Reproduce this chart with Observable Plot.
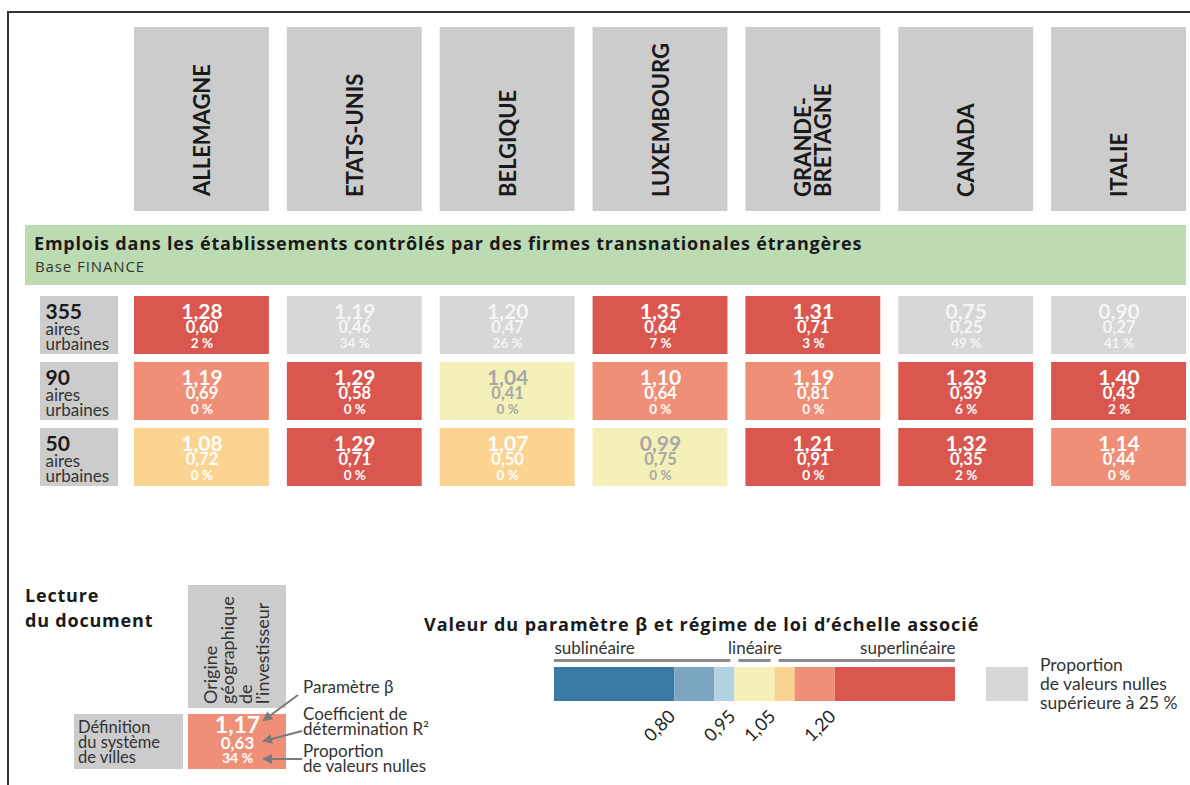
<!DOCTYPE html>
<html><head><meta charset="utf-8">
<script src="https://cdn.jsdelivr.net/npm/d3@7"></script>
<script src="https://cdn.jsdelivr.net/npm/@observablehq/plot@0.6"></script>
<style>
body{margin:0;background:#fff;}
#root{position:relative;width:1190px;height:785px;overflow:hidden;font-family:Lato,"Open Sans",sans-serif;color:#1a1a1a;background:#fff;}
.abs{position:absolute;}
.hb{font-family:"Open Sans",Lato,sans-serif;font-weight:bold;font-size:18px;white-space:nowrap;color:#1a1a1a;letter-spacing:0.8px;}
#frameTop{left:7px;top:11px;width:1183px;height:2px;background:#333;}
#frameLeft{left:7px;top:11px;width:2px;height:774px;background:#333;}
#banner{left:25px;top:225px;width:1161px;height:60px;background:#bddbb3;}
#bannerTitle{left:34px;top:231px;line-height:24px;}
#bannerSub{left:35px;top:256px;font-family:"Open Sans",Lato,sans-serif;font-size:15px;letter-spacing:0.9px;line-height:20px;color:#333;}
#lecture{left:25px;top:583px;line-height:25px;}
#vBox{left:188px;top:585px;width:98px;height:123px;background:#cccccc;}
#defBox{left:74px;top:714px;width:109px;height:55px;background:#cccccc;font-size:16.5px;line-height:15px;color:#333;box-sizing:border-box;padding:6px 0 0 4px;white-space:nowrap;}
#notes{left:303px;top:679px;font-size:17px;line-height:15px;color:#333;white-space:nowrap;}
#legTitle{left:424px;top:611px;line-height:26px;letter-spacing:0.95px;}
#greyKey{left:986px;top:667px;width:42px;height:34px;background:#d7d7d7;}
#greyKeyText{left:1040px;top:655px;font-size:17.5px;line-height:19px;color:#333;white-space:nowrap;}
svg{overflow:visible;}
</style></head>
<body><div id="root"></div>
<script>
// ---------- data ----------
const countries = ["ALLEMAGNE","ETATS-UNIS","BELGIQUE","LUXEMBOURG","GRANDE-\nBRETAGNE","CANADA","ITALIE"];
const systems = ["355","90","50"];
const beta355 = [1.28,1.19,1.20,1.35,1.31,0.75,0.90];
const r2_355  = [0.60,0.46,0.47,0.64,0.71,0.25,0.27];
const zero355 = [2,34,26,7,3,49,41];
const beta90  = [1.19,1.29,1.04,1.10,1.19,1.23,1.40];
const r2_90   = [0.69,0.58,0.41,0.64,0.81,0.39,0.43];
const zero90  = [0,0,0,0,0,6,2];
const beta50  = [1.08,1.29,1.07,0.99,1.21,1.32,1.14];
const r2_50   = [0.72,0.71,0.50,0.75,0.91,0.35,0.44];
const zero50  = [0,0,0,0,0,2,0];
const thresholds = [0.80,0.90,0.95,1.05,1.10,1.20];
const palette = ["#3a7ba5","#7aa6c1","#b4d3e2","#f3f1b8","#fcd491","#f08f77","#d9574f"];
const tickValues = [0.80,0.95,1.05,1.20];
const regimes = ["sublinéaire","linéaire","superlinéaire"];
const regimeBounds = [[0.5,0.95],[0.95,1.05],[1.05,1.5]];
const betaDomain = [0.5,1.5];
const guideBeta = 1.17, guideR2 = 0.63, guideZero = 34;
const greyLimit = 25;

// ---------- helpers ----------
const root = document.getElementById("root");
function place(el, left, top){ const d=document.createElement("div"); d.className="abs"; d.style.left=left+"px"; d.style.top=top+"px"; d.appendChild(el); root.appendChild(d); return d; }
function html(id, content, cls){ const d=document.createElement("div"); d.id=id; d.className="abs"+(cls?" "+cls:""); d.innerHTML=content; root.appendChild(d); return d; }
function align(el, o){
  const b = el.getBoundingClientRect(), r = root.getBoundingClientRect();
  const L = b.left - r.left, T = b.top - r.top;
  let dx = 0, dy = 0;
  if (o.cx != null) dx = o.cx - (L + b.width/2);
  if (o.right != null) dx = o.right - (L + b.width);
  if (o.bottom != null) dy = o.bottom - (T + b.height);
  if (o.top != null) dy = o.top - T;
  el.setAttribute("transform", `translate(${dx},${dy}) ` + (el.getAttribute("transform") || ""));
}
const fmt = v => v.toFixed(2).replace(".", ",");
const pct = v => v + "\u202f%";
const FONT = "Lato, 'Open Sans', sans-serif";
const style = {fontFamily: FONT, background: "transparent", overflow: "visible"};
const colorOpt = {type:"threshold", domain: thresholds, range: palette};

const cells = [];
[[beta355,r2_355,zero355],[beta90,r2_90,zero90],[beta50,r2_50,zero50]].forEach(([b,r,z],i)=>{
  countries.forEach((c,j)=>cells.push({system:systems[i], country:c, beta:b[j], r2:r[j], zero:z[j]}));
});
const txtFill = d => d.zero > greyLimit ? "#f5f5f5" : (d.beta >= 0.95 && d.beta < 1.05 ? "#a8a8a8" : "#ffffff");

html("frameTop",""); html("frameLeft","");

// ---------- header ----------
const xBand = {type:"band", domain: countries, paddingInner: 18/153, paddingOuter: 0, round:false, axis:null};
const header = Plot.plot({
  width:1190, height:184, marginTop:0, marginBottom:0, marginLeft:134, marginRight:4, style,
  x: xBand,
  marks:[
    Plot.cell(countries, {x:d=>d, fill:"#cccccc", inset:0}),
    Plot.text(countries, {x:d=>d, text:d=>d, rotate:-90, textAnchor:"start", frameAnchor:"bottom",
      fontSize:22, fontWeight:"bold", fill:"#1a1a1a", lineHeight:0.92})
  ]
});
place(header, 0, 27);
{
  const sx = header.scale("x");
  header.querySelectorAll("g[aria-label='text'] text").forEach((t,i)=>{
    align(t, {cx: sx.apply(countries[i]) + sx.bandwidth/2, bottom: 197});
  });
}

// ---------- banner ----------
html("banner","");
html("bannerTitle","Emplois dans les établissements contrôlés par des firmes transnationales étrangères","hb");
html("bannerSub","Base FINANCE");

// ---------- grid ----------
const yBand = {type:"band", domain: systems, paddingInner: 8/66, paddingOuter: 0, round:false, axis:null};
const grid = Plot.plot({
  width:1190, height:190, marginTop:0, marginBottom:0, marginLeft:134, marginRight:4, style,
  x: xBand, y: yBand, color: colorOpt,
  marks:[
    Plot.cell(cells.filter(d=>d.zero<=greyLimit), {x:"country", y:"system", fill:"beta", inset:0}),
    Plot.cell(cells.filter(d=>d.zero>greyLimit), {x:"country", y:"system", fill:"#d7d7d7", inset:0}),
    Plot.text(cells, {x:"country", y:"system", text:d=>fmt(d.beta), dy:-13, fontSize:21, fontWeight:"bold", fill:txtFill}),
    Plot.text(cells, {x:"country", y:"system", text:d=>fmt(d.r2), dy:2.5, fontSize:16.5, fontWeight:"bold", fill:txtFill}),
    Plot.text(cells, {x:"country", y:"system", text:d=>pct(d.zero), dy:18, fontSize:13.5, fontWeight:"bold", fill:txtFill})
  ]
});
place(grid, 0, 296);

const rowLab = Plot.plot({
  width:78, height:190, margin:0, style, y: yBand,
  marks:[
    Plot.cell(systems, {y:d=>d, fill:"#cccccc", inset:0}),
    Plot.text(systems, {y:d=>d, text:d=>d, frameAnchor:"left", textAnchor:"start", dx:5, dy:-13, fontSize:21, fontWeight:"bold", fill:"#1a1a1a"}),
    Plot.text(systems, {y:d=>d, text:()=>"aires", frameAnchor:"left", textAnchor:"start", dx:5, dy:4, fontSize:17, fill:"#333"}),
    Plot.text(systems, {y:d=>d, text:()=>"urbaines", frameAnchor:"left", textAnchor:"start", dx:5, dy:19, fontSize:17, fill:"#333"})
  ]
});
place(rowLab, 40, 296);

// ---------- legend ----------
html("legTitle","Valeur du paramètre β et régime de loi d’échelle associé","hb");
const bins = d3.pairs([betaDomain[0], ...thresholds, betaDomain[1]]);
const legend = Plot.plot({
  width:460, height:110, marginTop:32, marginBottom:44, marginLeft:30, marginRight:29, style,
  x:{type:"linear", domain: betaDomain, axis:null}, color: colorOpt,
  marks:[
    Plot.rect(bins, {x1:d=>d[0], x2:d=>d[1], fill:d=>(d[0]+d[1])/2, inset:0}),
    Plot.rect(regimeBounds, {x1:d=>d[0], x2:d=>d[1], fill:"#8c8c8c", insetTop:-8, insetBottom:39, insetLeft:0, insetRight:0}),
    Plot.text([regimes[0]], {x:regimeBounds[0][0], text:d=>d, frameAnchor:"top", textAnchor:"start", fontSize:17, fill:"#333"}),
    Plot.text([regimes[1]], {x:(regimeBounds[1][0]+regimeBounds[1][1])/2, text:d=>d, frameAnchor:"top", textAnchor:"middle", fontSize:17, fill:"#333"}),
    Plot.text([regimes[2]], {x:regimeBounds[2][1], text:d=>d, frameAnchor:"top", textAnchor:"end", fontSize:17, fill:"#333"}),
    Plot.text(tickValues, {x:d=>d, text:d=>fmt(d), frameAnchor:"bottom", rotate:-45, textAnchor:"end", fontSize:18, fill:"#222"})
  ]
});
place(legend, 524, 635);
{
  const rects = legend.querySelectorAll("g[aria-label='rect']")[1].querySelectorAll("rect");
  rects.forEach((r,i)=>{
    const x=+r.getAttribute("x"), w=+r.getAttribute("width");
    const gl = i===0?0:4, gr = i===2?0:4;
    r.setAttribute("x", x+gl); r.setAttribute("width", w-gl-gr);
  });
  const lx = legend.scale("x");
  const texts = legend.querySelectorAll("g[aria-label='text']");
  // regime labels: bottom of their box just above the grey lines
  for (let k=0;k<3;k++) texts[k].querySelectorAll("text").forEach(t=>align(t,{bottom:658}));
  texts[texts.length-1].querySelectorAll("text").forEach((t,i)=>{
    align(t, {right: 524 + lx.apply(tickValues[i]) + 5, top: 705});
  });
}
html("greyKey","");
html("greyKeyText","Proportion<br>de valeurs nulles<br>supérieure à 25\u202f%");

// ---------- reading guide ----------
html("lecture","Lecture<br>du document","hb");
html("vBox","");
const vtext = Plot.plot({
  width:98, height:123, margin:0, style,
  marks:[
    Plot.text(["Origine\ngéographique\nde\nl’investisseur"], {text:d=>d, rotate:-90, frameAnchor:"bottom", textAnchor:"start", fontSize:18, lineHeight:0.98, fill:"#333"})
  ]
});
place(vtext, 188, 585);
vtext.querySelectorAll("g[aria-label='text'] text").forEach(t=>align(t,{cx:236, bottom:704}));
html("defBox","Définition<br>du système<br>de villes");
const guide = [{k:"ex", beta:guideBeta, r2:guideR2, zero:guideZero}];
const gcell = Plot.plot({
  width:98, height:55, margin:0, style, color: colorOpt,
  x:{type:"band", domain:["ex"], padding:0, axis:null},
  marks:[
    Plot.cell(guide, {x:"k", fill:"beta", inset:0}),
    Plot.text(guide, {x:"k", text:d=>fmt(d.beta), frameAnchor:"middle", dy:-16, fontSize:23, fontWeight:"bold", fill:"white"}),
    Plot.text(guide, {x:"k", text:d=>fmt(d.r2), frameAnchor:"middle", dy:2, fontSize:17, fontWeight:"bold", fill:"white"}),
    Plot.text(guide, {x:"k", text:d=>pct(d.zero), frameAnchor:"middle", dy:17, fontSize:14, fontWeight:"bold", fill:"white"})
  ]
});
place(gcell, 188, 714);
html("notes","Paramètre β<br><div style='height:12px'></div>Coefficient de<br>détermination R²<br><div style='height:7px'></div>Proportion<br>de valeurs nulles");
const ns="http://www.w3.org/2000/svg";
const arr=document.createElementNS(ns,"svg");
arr.setAttribute("width",1190); arr.setAttribute("height",785);
arr.setAttribute("style","position:absolute;left:0;top:0;pointer-events:none");
arr.innerHTML=`<defs><marker id="ah" viewBox="0 0 10 10" refX="8" refY="5" markerWidth="5" markerHeight="5" orient="auto"><path d="M0,0L10,5L0,10z" fill="#7a7a7a"/></marker></defs>
<g stroke="#7a7a7a" stroke-width="2" fill="none" marker-end="url(#ah)">
<line x1="298" y1="695" x2="264" y2="720"/>
<line x1="302" y1="731" x2="264" y2="741"/>
<line x1="302" y1="759" x2="264" y2="759"/>
</g>`;
root.appendChild(arr);
</script></body></html>
